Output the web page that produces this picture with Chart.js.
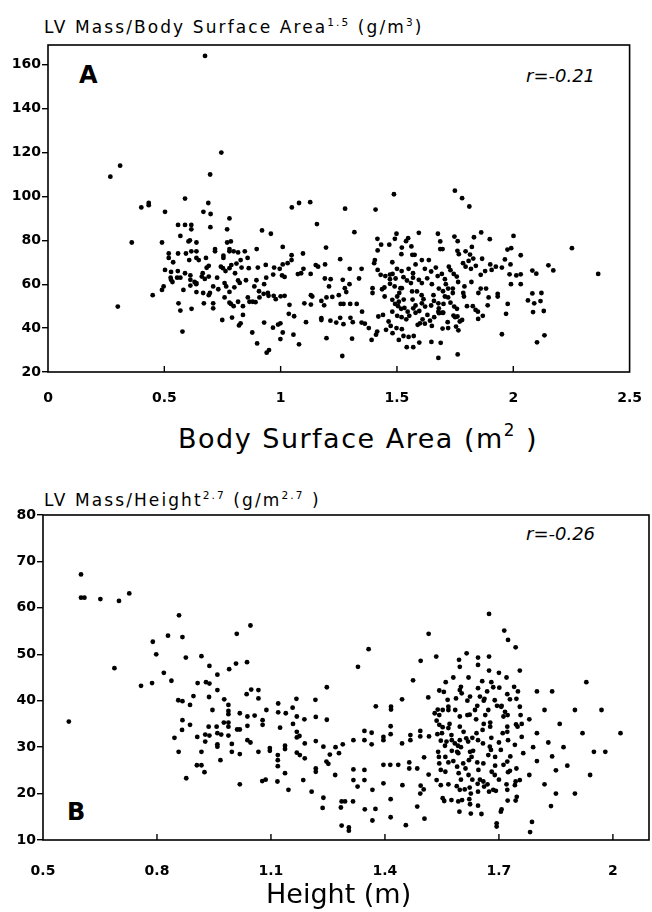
<!DOCTYPE html>
<html>
<head>
<meta charset="utf-8">
<script src="https://cdn.jsdelivr.net/npm/chart.js@4.4.1/dist/chart.umd.min.js"></script>
<style>
  body { margin: 0; background: #fff; width: 652px; height: 912px; position: relative; overflow: hidden; font-family: "DejaVu Sans", sans-serif; color: #000; }
  canvas { position: absolute; left: 0; }
  .txt { position: absolute; line-height: 1; white-space: nowrap; }
  .txt sup { font-size: 0.62em; vertical-align: 0.7em; line-height: 0; }
</style>
</head>
<body>
<div class="txt" style="left:44px; top:19px; font-size:17px; letter-spacing:2.1px;">LV Mass/Body Surface Area<sup>1.5</sup> (g/m<sup>3</sup>)</div>
<div class="txt" style="left:79px; top:63px; font-size:24px; font-weight:bold;">A</div>
<div class="txt" style="left:526px; top:67px; font-size:18px; font-style:italic;">r=-0.21</div>
<canvas id="chartA" width="652" height="420" style="top:0"></canvas>
<div class="txt" style="left:178px; top:425px; font-size:27px; letter-spacing:1.5px;">Body Surface Area (m<sup>2</sup> )</div>

<div class="txt" style="left:44px; top:492px; font-size:17px; letter-spacing:2.1px;">LV Mass/Height<sup>2.7</sup> (g/m<sup>2.7</sup> )</div>
<div class="txt" style="left:526px; top:525px; font-size:18px; font-style:italic;">r=-0.26</div>
<div class="txt" style="left:67px; top:800px; font-size:24px; font-weight:bold;">B</div>
<canvas id="chartB" width="652" height="472" style="top:440px"></canvas>
<div class="txt" style="left:266px; top:880px; font-size:27px;">Height (m)</div>

<script>
// panel A: LV mass / BSA^1.5 against body surface area
const bsaTicks = [0, 0.5, 1, 1.5, 2, 2.5];
const massTicksA = [20, 40, 60, 80, 100, 120, 140, 160];
const bsaX = [
  0.675, 0.745, 0.268, 0.31, 0.697,
  0.589, 0.689, 0.433, 0.433, 0.401, 0.503, 0.668, 0.699, 0.78, 0.698, 0.77, 0.92, 0.958, 0.36, 0.49,
  0.559, 0.589, 0.616, 0.616, 0.569, 0.61, 0.604, 0.638, 0.897,
  0.519, 0.519, 0.559, 0.593, 0.616, 0.638, 0.607, 0.638, 0.648, 0.679,
  0.718, 0.718, 0.754, 0.754, 0.77, 0.786, 0.78, 0.78, 0.798, 0.817, 0.846, 0.858, 0.828,
  0.538, 0.503, 0.529, 0.558, 0.527, 0.555, 0.569, 0.589, 0.612, 0.612, 0.63, 0.637,
  0.665, 0.661, 0.682, 0.691, 0.674, 0.691, 0.743, 0.752, 0.763, 0.78, 0.788, 0.804, 0.81, 0.832, 0.863, 0.902, 0.936,
  0.535, 0.529, 0.49, 0.497, 0.45, 0.582, 0.612, 0.638, 0.638, 0.667, 0.691, 0.696, 0.71, 0.727, 0.732, 0.759, 0.766, 0.78, 0.801, 0.817, 0.824, 0.851, 0.887, 0.896, 0.929, 0.938, 0.945, 0.948,
  0.561, 0.569, 0.617, 0.67, 0.71, 0.71, 0.759, 0.78, 0.786, 0.798, 0.817, 0.838, 0.838, 0.859, 0.866, 0.88, 0.892, 0.907, 0.909, 0.927,
  0.749, 0.791, 0.821, 0.828, 0.578, 0.878, 0.899, 0.929, 0.94, 0.95, 0.3,
  1.048, 1.079, 1.127, 1.156, 1.277, 1.408, 1.487, 1.749, 1.78, 1.811,
  1.009, 1.096, 1.195, 1.317, 1.047, 1.047, 1.03, 1.009, 0.996, 0.972, 0.968, 1.006, 1.017, 1.074, 1.088, 1.098, 1.129, 1.151, 1.161, 1.191, 1.256, 1.297, 1.348, 1.19, 1.215, 1.267, 1.208, 1.276, 1.282, 1.296, 1.337,
  0.97, 0.979, 1.0, 1.017, 1.038, 1.102, 1.13, 1.136, 1.13, 1.175, 1.187, 1.197, 1.222, 1.25, 1.258, 1.27, 1.299, 1.327, 1.35,
  1.035, 1.058, 1.109, 1.175, 1.175, 1.214, 1.239, 1.256, 1.27, 1.3, 1.31, 1.348, 1.362, 0.967, 0.989, 0.999, 1.009, 1.055, 0.999, 1.079, 1.197, 1.307, 1.265, 1.379, 1.391, 1.41, 1.415,
  1.417, 1.405, 1.402, 1.417, 1.43, 1.45, 1.47, 1.47, 1.47, 1.481, 1.494, 1.515, 1.521, 1.528, 1.543, 1.56, 1.569, 1.569, 1.594, 1.607, 1.63, 1.647, 1.667, 1.675, 1.693, 1.706, 1.723, 1.73, 1.744, 1.757, 1.763, 1.784, 1.795, 1.818, 1.839, 1.86, 1.879, 1.901, 1.907, 1.925, 1.951, 1.964,
  1.416, 1.432, 1.467, 1.491, 1.498, 1.521, 1.519, 1.548, 1.539, 1.562, 1.566, 1.594, 1.576, 1.607, 1.637, 1.676, 1.686, 1.686, 1.696, 1.747, 1.761, 1.76, 1.766, 1.795, 1.814, 1.822, 1.828, 1.862, 1.899, 1.831, 1.808, 1.866, 1.975,
  1.395, 1.395, 1.436, 1.446, 1.447, 1.48, 1.492, 1.505, 1.518, 1.529, 1.532, 1.546, 1.553, 1.567, 1.58, 1.596, 1.606, 1.614, 1.631, 1.642, 1.647, 1.659, 1.678, 1.695, 1.698, 1.706, 1.72, 1.73, 1.746, 1.758, 1.78, 1.785, 1.788, 1.801, 1.826, 1.838, 1.848, 1.849, 1.869, 1.883, 1.894, 1.89, 1.933, 1.933, 1.969, 1.976,
  1.42, 1.44, 1.464, 1.473, 1.453, 1.498, 1.508, 1.528, 1.55, 1.572, 1.542, 1.57, 1.589, 1.599, 1.596, 1.648, 1.688, 1.678, 1.696, 1.72, 1.718, 1.743, 1.76, 1.754, 1.764, 1.761, 1.951, 1.481, 1.521, 1.681, 1.699,
  1.501, 1.508, 1.565, 1.586, 1.607, 1.621, 1.657, 1.678, 1.48, 1.501,
  1.49, 1.51, 1.52, 1.54, 1.57, 1.58, 1.61, 1.62, 1.65, 1.66, 1.68, 1.7, 1.72, 1.74, 1.79, 1.82, 1.85, 1.86, 1.75, 1.77,
  1.48, 1.5, 1.52, 1.55, 1.58, 1.62, 1.65, 1.68, 1.71, 1.74,
  2.001, 1.991, 2.032, 1.988, 2.082, 2.099, 2.151, 2.172, 2.252, 2.365, 1.984, 2.013, 2.032, 1.99, 2.032, 2.082, 2.121, 2.063, 2.09, 2.117, 2.085, 2.131, 2.102, 2.134
];
const bsaMass = [
  164, 120, 109, 114, 110,
  99, 97, 97, 96, 95, 93, 93, 92, 90, 86, 85, 84.5, 83, 79, 79,
  87, 87, 87, 85, 82, 80, 79.5, 79, 76,
  74, 72, 74, 74, 75, 75, 71, 72, 71, 72,
  76, 75, 73, 72, 79, 79.5, 76, 75, 75, 74.5, 75, 72, 71,
  70, 66.5, 65.6, 66, 63, 63, 63, 65, 64, 62, 61, 60,
  65, 63.5, 67.5, 68.4, 62.4, 63.5, 68, 67.3, 66, 67.3, 68.7, 65, 69.4, 67.6, 67.3, 67.6, 68.8,
  61, 62, 57.4, 59, 55, 57.4, 59.4, 60.5, 56.4, 56, 55, 56, 59, 63, 57.7, 60.5, 59, 56.5, 58.6, 61.7, 60.6, 61.8, 59, 61.8, 60, 63, 56, 54.7,
  51.3, 48, 48.8, 51.3, 51.3, 49, 54, 51.6, 51, 50, 52, 50, 46, 54, 52, 52, 51.8, 56.8, 54, 55.6,
  43.7, 44.8, 41.2, 42.2, 38.4, 38, 33, 42.5, 28.8, 30, 49.8,
  95, 97, 97.4, 87.4, 94.4, 94, 101, 102.6, 99.2, 95.4,
  77, 74, 76.7, 83.7, 73.2, 71, 69.6, 69, 67, 67.6, 64.4, 64, 63.3, 64.6, 65, 67, 64.7, 68.7, 68, 69, 71.4, 67, 67, 62.6, 62.3, 62, 59, 58.2, 56.4, 60, 62.6,
  54.7, 53.2, 54.5, 54.7, 50.6, 51.3, 55, 54.4, 50.7, 52.4, 50.4, 54, 54.2, 55, 51, 51, 51, 51, 47.5,
  46.5, 45.4, 42.7, 44.5, 43.7, 43.4, 42.5, 44.7, 41.8, 44.7, 42.7, 42.5, 42, 40.2, 41.6, 42.2, 38, 37, 35, 32.6, 35.4, 35.2, 27.3, 40, 34.6, 37, 38.4,
  75.4, 71, 69.6, 66.5, 64.3, 63.7, 64.4, 62.3, 60.2, 64.7, 62.6, 58.2, 58.2, 63.2, 61.7, 60.5, 65, 63, 62, 60.5, 62.7, 65.8, 67.6, 63.7, 64.7, 62.3, 68, 66.4, 64.7, 63.5, 61, 69.6, 68, 67, 68.4, 64.3, 66, 69, 66.5, 68, 67.6, 71.3,
  80.7, 78, 78, 80.7, 83, 76.7, 73.7, 81, 79.6, 77.2, 73.4, 83.4, 73.4, 71, 71, 83, 79.5, 76, 76, 81.7, 79.6, 75.2, 73.7, 75, 73.5, 77, 71.7, 83.6, 80.5, 81.4, 70.6, 71.6, 75.8,
  58.2, 56, 57.7, 58.5, 54.4, 52.9, 51, 50, 48.8, 53, 49.2, 47.5, 45.6, 53, 50.3, 47.8, 55, 53.2, 46, 43.4, 50.3, 52.4, 47.5, 47, 56.8, 54.4, 54, 51.6, 49.8, 48.8, 43.7, 56, 54.4, 50, 50, 48.3, 47.5, 44.2, 45.6, 58, 54, 50.4, 55.6, 54.4, 46.5, 51,
  45.3, 46, 43, 41, 39.2, 40, 34.6, 36.4, 36, 36.4, 31.3, 31.3, 41.5, 42.2, 33.4, 33.7, 33.3, 26.4, 39.8, 40, 42.7, 45.7, 45.3, 40.7, 39, 28, 37.2, 37.7, 39.5, 46.8, 47,
  54.4, 52, 56.7, 56.7, 51.3, 49.8, 55, 51.3, 47.5, 45.6,
  59, 56, 45, 44, 49, 47, 44, 42, 41, 45, 49, 51, 58, 58, 59, 61, 56, 58, 45, 43,
  70, 67, 66, 67, 69, 67, 60, 58, 60, 56,
  82, 76.4, 73.2, 69, 66.2, 64.8, 68.6, 66.3, 76.4, 64.7, 64.5, 64, 64.5, 60, 60, 55.8, 56, 52.6, 51.3, 52.3, 47.3, 47.8, 33.5, 36.7
];

// panel B: LV mass / height^2.7 against height
const heightTicks = [0.5, 0.8, 1.1, 1.4, 1.7, 2];
const massTicksB = [10, 20, 30, 40, 50, 60, 70, 80];
const heightX = [
  0.6, 0.6, 0.609, 0.651, 0.7, 0.727, 0.568, 0.688, 0.858, 0.789, 0.829, 0.867, 0.798, 0.876, 0.917, 1.01, 1.046, 0.938, 0.959, 0.99, 1.008, 1.037,
  0.758, 0.787, 0.818, 0.838, 0.907, 0.929, 0.938, 0.959, 0.856, 0.867, 0.896, 0.887, 0.937, 0.946, 0.977, 0.988, 0.988, 0.988, 1.018, 1.036, 1.048, 1.067, 1.067, 1.057, 1.088,
  0.867, 0.866, 0.887, 0.846, 0.857, 0.906, 0.917, 0.927, 0.938, 0.927, 0.936, 0.957, 0.959, 0.969, 0.959, 0.959, 0.988, 0.988, 0.976, 0.988,
  0.997, 0.997, 1.018, 1.011, 1.038, 1.038, 1.038, 1.046, 1.018, 0.967, 1.078, 1.078, 1.067, 1.097, 1.097, 0.905, 0.917, 0.925, 0.877, 1.018, 1.077, 1.086, 1.117,
  1.674, 1.714, 1.724, 1.744, 1.515, 1.357, 1.329, 1.494, 1.535, 1.615, 1.595, 1.597, 1.645, 1.645, 1.674, 1.674, 1.755, 1.474, 1.247, 1.514, 1.445, 1.376, 1.416, 1.416,
  1.119, 1.119, 1.167, 1.217, 1.157, 1.139, 1.168, 1.188, 1.218, 1.247, 1.124, 1.158, 1.168, 1.137, 1.137, 1.168, 1.175, 1.189, 1.218, 1.238, 1.27, 1.289, 1.317, 1.346, 1.346, 1.365, 1.365, 1.396, 1.396, 1.415, 1.415, 1.445, 1.467, 1.467, 1.493, 1.493, 1.516,
  1.118, 1.118, 1.118, 1.168, 1.176, 1.189, 1.218, 1.218, 1.246, 1.251, 1.279, 1.255, 1.137, 1.185, 1.269, 1.317, 1.317, 1.346, 1.346, 1.328, 1.367, 1.396, 1.414, 1.396, 1.435, 1.446, 1.464, 1.464, 1.485, 1.494, 1.503, 1.515,
  1.146, 1.207, 1.238, 1.236, 1.286, 1.295, 1.284, 1.316, 1.347, 1.375, 1.367, 1.415, 1.415, 1.286, 1.305, 1.305, 1.455, 1.504, 1.485, 1.493, 1.502,
  1.543, 1.555, 1.565, 1.567, 1.597, 1.602, 1.587, 1.617, 1.624, 1.645, 1.65, 1.656, 1.662, 1.669, 1.685, 1.701, 1.689, 1.706, 1.716, 1.722, 1.729, 1.746, 1.755, 1.757,
  1.539, 1.543, 1.552, 1.567, 1.585, 1.597, 1.617, 1.623, 1.637, 1.643, 1.664, 1.672, 1.695, 1.707, 1.712, 1.723, 1.749, 1.745,
  1.536, 1.543, 1.552, 1.567, 1.575, 1.576, 1.584, 1.592, 1.597, 1.607, 1.614, 1.619, 1.624, 1.632, 1.641, 1.645, 1.657, 1.658, 1.677, 1.677, 1.676, 1.679, 1.69, 1.705, 1.722, 1.722, 1.724, 1.742,
  1.724, 1.729, 1.746, 1.54, 1.542, 1.543, 1.559, 1.567, 1.576, 1.59, 1.59, 1.594, 1.606, 1.612, 1.621, 1.628, 1.643, 1.646, 1.659, 1.672, 1.681, 1.689, 1.712, 1.722, 1.744, 1.742,
  1.547, 1.559, 1.536, 1.547, 1.567, 1.589, 1.597, 1.61, 1.623, 1.626, 1.644, 1.645, 1.659, 1.661, 1.674, 1.685, 1.692,
  1.552, 1.556, 1.575, 1.593, 1.603, 1.622, 1.624, 1.645, 1.654, 1.596, 1.626, 1.707, 1.705, 1.694, 1.694, 1.722, 1.723, 1.747, 1.744, 1.755, 1.76, 1.764,
  1.538, 1.547, 1.558, 1.562, 1.593, 1.597, 1.531,
  1.56, 1.58, 1.6, 1.62, 1.64, 1.66, 1.68, 1.7, 1.71, 1.73, 1.55, 1.57, 1.6, 1.62, 1.63,
  1.65, 1.67, 1.69, 1.7, 1.72, 1.58, 1.6, 1.63, 1.66, 1.68, 1.7, 1.72, 1.74, 1.75, 1.76,
  1.787, 1.782, 1.837,
  1.8, 1.78, 1.8, 1.79, 1.8, 1.78, 1.82, 1.83, 1.84, 1.85, 1.82, 1.86, 1.87, 1.88, 1.84, 1.9, 1.92, 1.93, 1.95, 1.97, 1.98, 2.02, 1.9, 1.94, 1.85
];
const heightMass = [
  67.2, 62.2, 62.2, 61.9, 61.5, 63.1, 35.5, 47, 58.4, 52.7, 54, 53.7, 50, 49.3, 49.6, 54.4, 56.2, 47.5, 45.6, 46.8, 48, 48.3,
  43.2, 43.8, 46, 44.3, 43.8, 44, 43.7, 42.3, 40.1, 39.9, 41, 39.1, 40.8, 38, 40.3, 39.1, 37.8, 37.1, 37.3, 41.4, 42.4, 42.3, 40.5, 36.8, 38,
  35.8, 33.7, 34.8, 32, 29, 32.2, 29, 32.7, 32.5, 31.2, 34.4, 34.4, 33, 32.7, 30.6, 30.1, 34.4, 32.5, 35.3, 35.3,
  30.7, 29, 33.8, 33.8, 36.6, 34.6, 31.5, 31, 28.5, 27.2, 35.8, 34.8, 29, 29.8, 29.2, 26.1, 26.1, 24.6, 23.3, 22, 22.7, 23, 22.6,
  58.7, 55.1, 53.1, 51.5, 54.4, 51.1, 47.3, 48.6, 49.5, 50.2, 48.8, 47.3, 49.3, 47.7, 49.5, 46.5, 46.5, 44.4, 42.9, 40.7, 40.3, 38.8, 38.7, 38.1,
  39.4, 37.5, 40.4, 40.2, 38.5, 37.3, 36.6, 36, 36.5, 35.9, 34.2, 35, 33.3, 30.3, 29.6, 32.1, 32.4, 30.8, 31.3, 30.1, 30, 30.6, 31.5, 33.5, 31.5, 33.1, 30.6, 32.2, 31.5, 34.5, 32.8, 30.8, 32.6, 31.5, 33.5, 32.3, 32.3,
  28.3, 27.2, 25.9, 28.8, 28.3, 27.6, 25.4, 24.7, 26.9, 26.4, 28.7, 28.4, 24.4, 22.9, 24, 25.2, 22.9, 25.1, 22.9, 21.5, 20.8, 26.2, 26.2, 22.2, 26.2, 21.8, 26.7, 25.4, 25.4, 21.7, 27.8, 24.1,
  20.8, 20.4, 19.1, 16.9, 18.3, 18.3, 17, 18.3, 16.6, 16.7, 14.2, 18.8, 14.9, 13.1, 12.7, 12, 13.2, 14.6, 17.2, 20, 20.9,
  42.2, 41.9, 40.2, 38.7, 42.3, 41.6, 40.5, 40, 40.9, 42.7, 40.9, 44.2, 40.4, 42, 42.9, 42.8, 40.1, 38.7, 37.6, 41.4, 40.3, 40.4, 38.7, 36.9,
  38.1, 36.9, 38, 38, 38, 36.6, 36.9, 37, 38, 38.9, 36.9, 38, 38.9, 38.9, 36.6, 36.9, 34.4, 34.9,
  35.7, 34.8, 34.3, 34.1, 32.6, 31.5, 30.8, 30.3, 34.4, 33.3, 31.9, 31.2, 29, 29.2, 33, 31.5, 33.7, 30.8, 35.3, 34.4, 30.1, 29.4, 27.9, 29.4, 34.4, 33.3, 31.5, 30.5,
  24.6, 24.9, 25.4, 29, 27.9, 26.5, 27.9, 26.7, 29.2, 29, 25.8, 24.4, 26.5, 25.4, 27.2, 27.9, 26.7, 25.1, 26.5, 28.3, 24.7, 24, 26.2, 26.9, 22.6, 21.8,
  25.1, 24.7, 22.9, 21.8, 22, 21.6, 20.8, 20.9, 21.3, 20, 22.1, 20.4, 22.6, 21.5, 20.4, 20.8, 20.6,
  19, 18.4, 18.6, 18.3, 18.6, 18.8, 17.7, 17.4, 15.6, 16.1, 15.7, 16.6, 16.1, 13.6, 12.9, 20.8, 18.5, 19.3, 18.5, 22.9, 32.2, 28.7,
  32.8, 31.4, 30.3, 31.2, 28.7, 31.5, 37.3,
  44, 45, 43, 45, 36, 35, 32, 31, 33, 28, 33, 35, 30, 24, 23,
  23, 22, 26, 23, 22, 27, 23, 32, 40, 44, 46, 45, 43, 42, 35,
  13.9, 11.7, 17.3,
  42, 36, 33, 30, 27, 24, 38, 31, 28, 25, 22, 35, 30, 26, 42, 38, 33, 44, 29, 38, 29, 33, 20, 24, 20
];

function toPoints(xs, ys) {
  return xs.map((x, i) => ({ x: x, y: ys[i] }));
}

// frame round the plot area plus the inward x ticks
const framePlugin = {
  id: "frame",
  afterDraw(chart) {
    const { ctx, chartArea: a, scales } = chart;
    ctx.save();
    ctx.strokeStyle = "#000";
    ctx.lineWidth = 1.6;
    ctx.strokeRect(a.left, a.top, a.right - a.left, a.bottom - a.top);
    ctx.lineWidth = 1.4;
    scales.x.ticks.forEach(t => {
      const px = scales.x.getPixelForValue(t.value);
      if (px <= a.left + 2 || px >= a.right - 2) return;
      ctx.beginPath();
      ctx.moveTo(px, a.bottom);
      ctx.lineTo(px, a.bottom - 6);
      ctx.stroke();
    });
    ctx.restore();
  }
};

const tickFont = { family: "DejaVu Sans", size: 14, weight: "bold" };

function makeChart(id, pts, xr, yr, xTicks, yTicks, pad, yWidth, xHeight, xPad) {
  return new Chart(document.getElementById(id), {
    type: "scatter",
    data: {
      datasets: [{
        data: pts,
        backgroundColor: "#000",
        borderWidth: 0,
        pointRadius: 2.4,
        pointHoverRadius: 2.4
      }]
    },
    options: {
      responsive: false,
      animation: false,
      devicePixelRatio: 1,
      layout: { padding: pad },
      plugins: { legend: { display: false }, tooltip: { enabled: false } },
      scales: {
        x: {
          type: "linear",
          min: xr[0],
          max: xr[1],
          afterBuildTicks: s => { s.ticks = xTicks.map(v => ({ value: v })); },
          afterFit: s => { s.height = xHeight; },
          grid: { display: false },
          border: { display: false },
          ticks: { color: "#000", font: tickFont, padding: xPad, maxRotation: 0, callback: v => String(v) }
        },
        y: {
          type: "linear",
          min: yr[0],
          max: yr[1],
          afterBuildTicks: s => { s.ticks = yTicks.map(v => ({ value: v })); },
          afterFit: s => { s.width = yWidth; },
          grid: { drawOnChartArea: false, drawTicks: true, tickLength: 6, color: "#000", lineWidth: 1.4 },
          border: { display: false },
          ticks: { color: "#000", font: tickFont, padding: 1, callback: v => String(v) }
        }
      }
    },
    plugins: [framePlugin]
  });
}

makeChart("chartA", toPoints(bsaX, bsaMass), [0, 2.5], [20, 169], bsaTicks, massTicksA,
  { left: 0, top: 45, right: 15, bottom: 0 }, 48, 48, 10);
makeChart("chartB", toPoints(heightX, heightMass), [0.5, 2.095], [10, 80], heightTicks, massTicksB,
  { left: 0, top: 75, right: 3, bottom: 0 }, 43, 72, 15);
</script>
</body>
</html>
